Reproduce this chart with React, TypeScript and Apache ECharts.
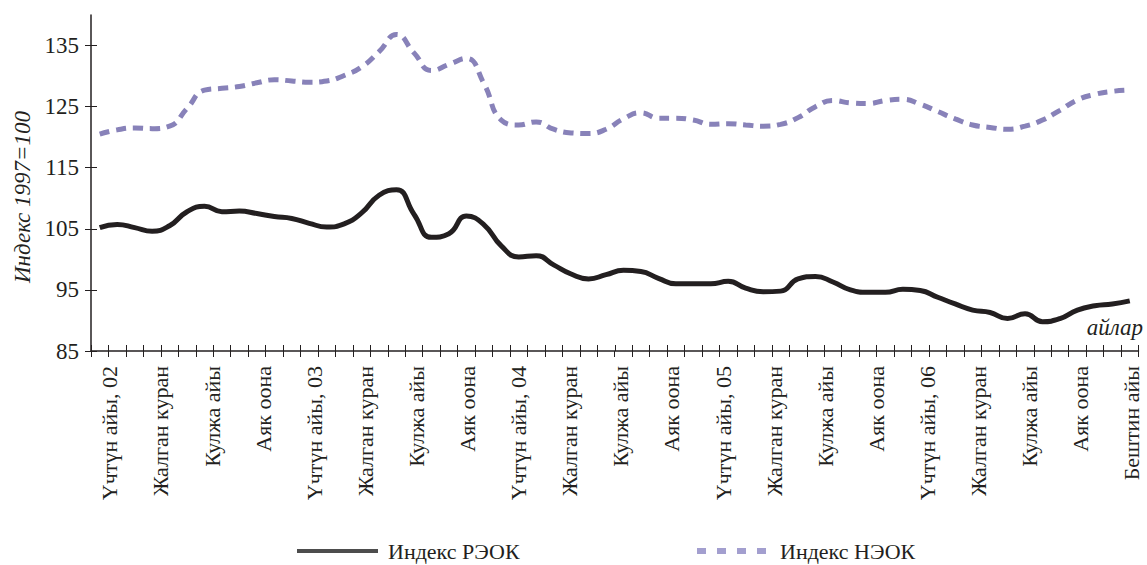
import React, { useEffect, useRef } from "react";
import * as echarts from "echarts";

const monthNames = [
  "Үчтүн айы", "Бирдин айы", "Чын куран", "Жалган куран", "Бугу", "Теке",
  "Кулжа айы", "Баш оона", "Тогуздун айы", "Аяк оона", "Жетинин айы", "Бештин айы",
];
const years = ["02", "03", "04", "05", "06"];
const categories: string[] = [];
years.forEach((y) => monthNames.forEach((m) => categories.push(`${m}, ${y}`)));

const seriesNames = ["Индекс РЭОК", "Индекс НЭОК"];

const reok = [
  105.2, 105.7, 105.2, 104.6, 105.5, 107.8, 108.7, 107.8, 107.9, 107.5, 107.0, 106.7,
  105.9, 105.3, 105.8, 107.6, 110.5, 111.4, 107.4, 103.6, 104.2, 107.1, 105.7, 102.2,
  100.4, 100.6, 99.1, 97.6, 96.8, 97.5, 98.2, 98.0, 96.9, 96.0, 96.0, 96.0,
  96.4, 95.3, 94.7, 94.8, 96.8, 97.2, 96.3, 95.0, 94.6, 94.6, 95.1, 94.9,
  93.8, 92.7, 91.7, 91.3, 90.3, 91.1, 89.8, 90.3, 91.7, 92.4, 92.7, 93.2,
];
const neok = [
  120.5, 121.2, 121.5, 121.4, 121.8, 124.7, 127.7, 128.0, 128.3, 128.9, 129.4, 129.2,
  129.0, 129.2, 130.1, 131.5, 134.0, 136.8, 133.8, 130.9, 131.9, 132.9, 128.8, 122.8,
  122.0, 122.5, 121.3, 120.7, 120.6, 121.3, 123.0, 124.0, 123.1, 123.1, 122.8, 122.1,
  122.2, 122.0, 121.8, 122.1, 123.2, 125.0, 126.0, 125.6, 125.5, 126.0, 126.2, 125.4,
  124.2, 123.0, 122.0, 121.6, 121.3, 121.8, 122.8, 124.4, 126.1, 127.0, 127.5, 127.7,
];

const xTickLabels = [
  "Үчтүн айы, 02", "Жалган куран", "Кулжа айы", "Аяк оона",
  "Үчтүн айы, 03", "Жалган куран", "Кулжа айы", "Аяк оона",
  "Үчтүн айы, 04", "Жалган куран", "Кулжа айы", "Аяк оона",
  "Үчтүн айы, 05", "Жалган куран", "Кулжа айы", "Аяк оона",
  "Үчтүн айы, 06", "Жалган куран", "Кулжа айы", "Аяк оона",
  "Бештин айы",
];
const yTicks = [85, 95, 105, 115, 125, 135];

const FONT = "Liberation Serif";
const INK = "#231f20";

export default function App() {
  const ref = useRef<HTMLDivElement>(null);
  useEffect(() => {
    if (!ref.current) return;
    const chart = echarts.init(ref.current, null, { renderer: "svg" });
    const n = categories.length;
    const labelFirst = 1.08;
    const labelLast = 59.62;
    const step = (labelLast - labelFirst) / (xTickLabels.length - 1);
    const labelPos = xTickLabels.map((_, i) => labelFirst + i * step);
    const boundaryTicks = Array.from({ length: n + 1 }, (_, i) => i);
    const legendY = 551;

    chart.setOption({
      animation: false,
      backgroundColor: "#ffffff",
      textStyle: { fontFamily: FONT, color: INK },
      grid: { left: 91, right: 8.5, top: 15, bottom: 214, containLabel: false },
      xAxis: [
        {
          type: "category",
          data: categories,
          boundaryGap: true,
          axisLine: { show: true, lineStyle: { color: INK, width: 1.5 } },
          axisTick: { show: true, interval: 0, length: 6, inside: false, lineStyle: { color: INK, width: 1 } },
          axisLabel: { show: false },
          splitLine: { show: false },
        },
        {
          type: "value",
          min: 0,
          max: n,
          position: "bottom",
          axisLine: { show: false },
          axisTick: { show: true, inside: true, length: 6, customValues: boundaryTicks, lineStyle: { color: INK, width: 1 } },
          axisLabel: {
            show: true,
            customValues: labelPos,
            rotate: 90,
            margin: 15,
            fontSize: 22,
            fontFamily: FONT,
            color: INK,
            formatter: (v: number) => {
              const idx = Math.round((v - labelFirst) / step);
              return xTickLabels[idx] ?? "";
            },
          },
          splitLine: { show: false },
        },
      ],
      yAxis: [
        {
          type: "value",
          min: 85,
          max: 140,
          position: "left",
          axisLine: { show: true, lineStyle: { color: INK, width: 1.5 } },
          axisTick: { show: true, length: 6, customValues: yTicks, lineStyle: { color: INK, width: 1 } },
          axisLabel: { show: true, customValues: yTicks, margin: 12, fontSize: 23, fontFamily: FONT, color: INK },
          splitLine: { show: false },
        },
        {
          type: "value",
          min: 85,
          max: 140,
          position: "left",
          offset: 0,
          axisLine: { show: false },
          axisTick: { show: true, inside: true, length: 6, customValues: yTicks, lineStyle: { color: INK, width: 1 } },
          axisLabel: { show: false },
          splitLine: { show: false },
        },
      ],
      graphic: [
        {
          type: "text",
          x: 22,
          y: 197,
          rotation: Math.PI / 2,
          style: {
            text: "Индекс 1997=100",
            fontSize: 23,
            fontStyle: "italic",
            fontFamily: FONT,
            fill: INK,
            align: "center",
            verticalAlign: "middle",
          },
        },
        {
          type: "text",
          x: 1143,
          y: 327,
          style: {
            text: "айлар",
            fontSize: 23,
            fontStyle: "italic",
            fontFamily: FONT,
            fill: INK,
            align: "right",
            verticalAlign: "middle",
          },
        },
        {
          type: "line",
          shape: { x1: 297, y1: legendY, x2: 378, y2: legendY },
          style: { stroke: "#4d4d4d", lineWidth: 4 },
        },
        {
          type: "text",
          x: 388,
          y: legendY,
          style: {
            text: seriesNames[0],
            fontSize: 22,
            fontFamily: FONT,
            fill: INK,
            align: "left",
            verticalAlign: "middle",
          },
        },
        {
          type: "line",
          shape: { x1: 697, y1: legendY, x2: 767, y2: legendY },
          style: { stroke: "#a39fcf", lineWidth: 6, lineDash: [9, 11] },
        },
        {
          type: "text",
          x: 780,
          y: legendY,
          style: {
            text: seriesNames[1],
            fontSize: 22,
            fontFamily: FONT,
            fill: INK,
            align: "left",
            verticalAlign: "middle",
          },
        },
      ],
      series: [
        {
          name: seriesNames[0],
          type: "line",
          xAxisIndex: 0,
          yAxisIndex: 0,
          data: reok,
          smooth: 0.5,
          symbol: "none",
          lineStyle: { color: INK, width: 5 },
          itemStyle: { color: INK },
        },
        {
          name: seriesNames[1],
          type: "line",
          xAxisIndex: 0,
          yAxisIndex: 0,
          data: neok,
          smooth: 0.5,
          symbol: "none",
          lineStyle: { color: "#8882b9", width: 5, type: [10, 7] },
          itemStyle: { color: "#8882b9" },
        },
      ],
    });
    return () => chart.dispose();
  }, []);
  return (
    <div
      ref={ref}
      style={{ position: "absolute", left: 0, top: 0, width: 1147, height: 565, background: "#fff" }}
    />
  );
}
